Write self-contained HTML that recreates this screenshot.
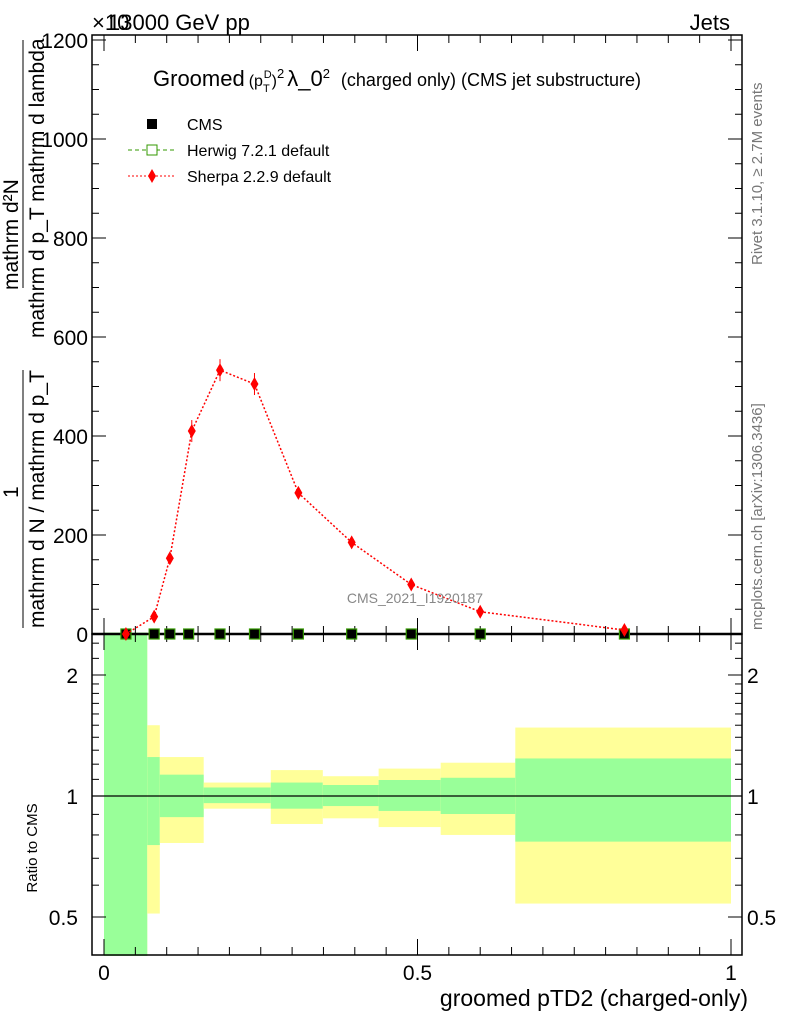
<!DOCTYPE html>
<html><head><meta charset="utf-8"><style>
body{margin:0;background:#fff;}
svg{font-family:"Liberation Sans",sans-serif;}
</style></head><body>
<svg id="c" width="786" height="1024" viewBox="0 0 786 1024" xmlns="http://www.w3.org/2000/svg">
<g id="bands"></g>
<g id="axes"></g>
<g id="series"></g>
<text x="92" y="30" font-size="22">×10</text>
<text x="108" y="30" font-size="22">13000 GeV pp</text>
<text x="730" y="30" font-size="22" text-anchor="end">Jets</text>
<text x="153" y="86" font-size="22">Groomed<tspan font-size="16" dx="4">(p</tspan><tspan font-size="11" dy="6">T</tspan><tspan font-size="11" dy="-14" dx="-6">D</tspan><tspan font-size="16" dy="8">)</tspan><tspan font-size="13" dy="-8">2</tspan><tspan dy="8" dx="3">λ_0</tspan><tspan font-size="13" dy="-8">2</tspan><tspan font-size="18" dy="8" dx="6"> (charged only) (CMS jet substructure)</tspan></text>
<g>
<rect x="147" y="119" width="10" height="10" fill="#000"/>
<text x="187" y="130" font-size="16">CMS</text>
<line x1="128" y1="150" x2="175" y2="150" stroke="#339900" stroke-dasharray="4,3"/>
<rect x="147" y="145" width="10" height="10" fill="#fff" stroke="#339900"/>
<text x="187" y="156" font-size="16">Herwig 7.2.1 default</text>
<line x1="128" y1="176" x2="175" y2="176" stroke="red" stroke-dasharray="2,2"/>
<path d="M152 169 L156 176 L152 183 L148 176Z" fill="red"/>
<text x="187" y="182" font-size="16">Sherpa 2.2.9 default</text>
</g>
<text x="415" y="603" font-size="14" fill="#888" text-anchor="middle">CMS_2021_I1920187</text>
<text transform="translate(762,265) rotate(-90)" font-size="15" fill="#777">Rivet 3.1.10, ≥ 2.7M events</text>
<text transform="translate(762,630) rotate(-90)" font-size="15" fill="#777">mcplots.cern.ch [arXiv:1306.3436]</text>
<g>
<text transform="translate(18,290) rotate(-90)" font-size="21">mathrm d²N</text>
<text transform="translate(44,338) rotate(-90)" font-size="21">mathrm d p_T mathrm d lambda</text>
<line x1="23" y1="40" x2="23" y2="288" stroke="#000"/>
<text transform="translate(18,498) rotate(-90)" font-size="21">1</text>
<line x1="23" y1="370" x2="23" y2="628" stroke="#000" />
<text transform="translate(44,628) rotate(-90)" font-size="21">mathrm d N / mathrm d p_T</text>
</g>
<text transform="translate(37,848) rotate(-90)" font-size="15" text-anchor="middle">Ratio to CMS</text>
<text x="748" y="1006" font-size="23" text-anchor="end">groomed pTD2 (charged-only)</text>
</svg>
<script>
const binEdges=[0,0.069,0.089,0.159,0.266,0.349,0.438,0.537,0.656,1];
const greenHi=[3,1.25,1.13,1.05,1.08,1.065,1.096,1.11,1.24];
const greenLo=[0.3,0.755,0.886,0.96,0.93,0.944,0.918,0.902,0.77];
const yellowHi=[3,1.5,1.25,1.08,1.16,1.12,1.17,1.21,1.48];
const yellowLo=[0.3,0.51,0.764,0.93,0.852,0.88,0.837,0.80,0.54];
const sherpaX=[0.035,0.08,0.105,0.14,0.185,0.24,0.31,0.395,0.49,0.6,0.83];
const sherpaY=[0,35,153,410,533,505,285,185,100,45,8];
const cmsX=[0.035,0.08,0.105,0.135,0.185,0.24,0.31,0.395,0.49,0.6,0.83];
const cmsY=[0,0,0,0,0,0,0,0,0,0,0];
const mainTicks=[0,200,400,600,800,1000,1200];
const ratioTicks=[0.5,1,2];
const xTicks=[0,0.5,1];
const NS="http://www.w3.org/2000/svg";
const L=92,R=742,T=35,M=634,B=955;
const X=v=>104+627*v;
const Y=v=>634-0.495*v;
const RY=r=>{r=Math.min(Math.max(r,0.4),2.55);return 796-121*Math.log2(r);};
function mk(p,tag,a){const e=document.createElementNS(NS,tag);for(const k in a)e.setAttribute(k,a[k]);p.appendChild(e);return e;}
const bands=document.getElementById('bands'),axes=document.getElementById('axes'),ser=document.getElementById('series');
for(let i=0;i<binEdges.length-1;i++){
 const x1=X(binEdges[i]),x2=X(binEdges[i+1]);
 let e=mk(bands,'rect',{x:x1,y:RY(yellowHi[i]),width:x2-x1,height:RY(yellowLo[i])-RY(yellowHi[i]),fill:'#ffff99'});
 
 
 e=mk(bands,'rect',{x:x1,y:RY(greenHi[i]),width:x2-x1,height:RY(greenLo[i])-RY(greenHi[i]),fill:'#99ff99'});
 
 
}
mk(axes,'rect',{x:L,y:T,width:R-L,height:M-T,fill:'none',stroke:'#000','stroke-width':1.5});
mk(axes,'rect',{x:L,y:M,width:R-L,height:B-M,fill:'none',stroke:'#000','stroke-width':1.5});
mk(axes,'line',{x1:L,y1:796,x2:R,y2:796,stroke:'#000','stroke-width':1.2});
mk(axes,'line',{x1:L,y1:M,x2:R,y2:M,stroke:'#000','stroke-width':2.5});
mainTicks.forEach(v=>{const y=Y(v);
 mk(axes,'line',{x1:L,y1:y,x2:L+14,y2:y,stroke:'#000'});mk(axes,'line',{x1:R-14,y1:y,x2:R,y2:y,stroke:'#000'});
 const t=mk(axes,'text',{x:L-4,y:y+8,'font-size':21,'text-anchor':'end'});t.textContent=v;
 
 
});
for(let v=0;v<=1200;v+=50){const y=Y(v);mk(axes,'line',{x1:L,y1:y,x2:L+7,y2:y,stroke:'#000'});mk(axes,'line',{x1:R-7,y1:y,x2:R,y2:y,stroke:'#000'});}
ratioTicks.forEach(v=>{const y=RY(v);
 mk(axes,'line',{x1:L,y1:y,x2:L+14,y2:y,stroke:'#000'});mk(axes,'line',{x1:R-14,y1:y,x2:R,y2:y,stroke:'#000'});
 let t=mk(axes,'text',{x:L-14,y:y+8,'font-size':21,'text-anchor':'end'});t.textContent=v;
 
 
 t=mk(axes,'text',{x:R+5,y:y+8,'font-size':21});t.textContent=v;
 
 
});
[0.6,0.7,0.8,0.9,1.1,1.2,1.3,1.4,1.5,1.6,1.7,1.8,1.9,2.2,2.4].forEach(v=>{const y=RY(v);mk(axes,'line',{x1:L,y1:y,x2:L+7,y2:y,stroke:'#000'});mk(axes,'line',{x1:R-7,y1:y,x2:R,y2:y,stroke:'#000'});});
for(let v=0;v<=1.0001;v+=0.05){const x=X(v);const big=Math.abs(v*2-Math.round(v*2))<1e-6;const h=big?16:8;
 [M,B].forEach(yb=>mk(axes,'line',{x1:x,y1:yb,x2:x,y2:yb-h,stroke:'#000'}));
 [T,M].forEach(yt=>mk(axes,'line',{x1:x,y1:yt,x2:x,y2:yt+h,stroke:'#000'}));}
xTicks.forEach(v=>{const t=mk(axes,'text',{x:X(v),y:980,'font-size':21,'text-anchor':'middle'});t.textContent=v;
 
 });
cmsX.forEach((v,i)=>{const e=mk(ser,'rect',{x:X(v)-5,y:Y(cmsY[i])-5,width:10,height:10,fill:'#000',stroke:'#339900','stroke-width':1.2});
 
 });
const pl=mk(ser,'polyline',{points:sherpaX.map((v,i)=>X(v)+','+Y(sherpaY[i])).join(' '),fill:'none',stroke:'red','stroke-width':1.5,'stroke-dasharray':'2,2'});


sherpaX.forEach((v,i)=>{const x=X(v),y=Y(sherpaY[i]);
 if(sherpaY[i]>300)mk(ser,'line',{x1:x,y1:y-11,x2:x,y2:y+11,stroke:'red'});
 const e=mk(ser,'path',{d:`M${x} ${y-7}L${x+4} ${y}L${x} ${y+7}L${x-4} ${y}Z`,fill:'red'});
 
 });
</script>
</body></html>
